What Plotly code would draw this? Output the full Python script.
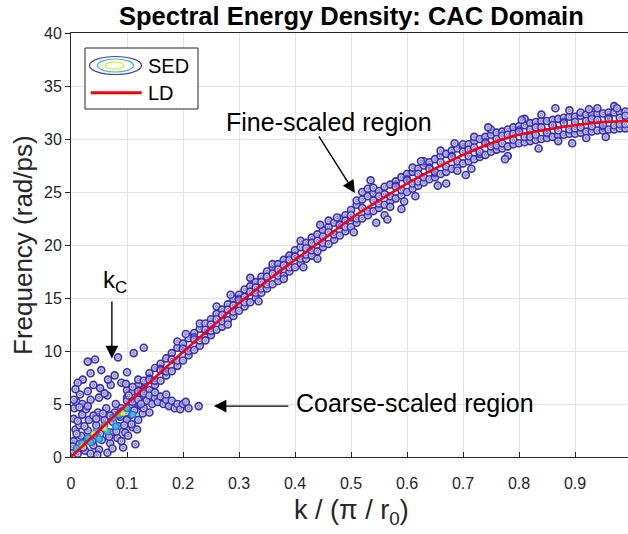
import plotly.graph_objects as go

# ---------------- data ----------------
# Lattice-dynamics (LD) dispersion curve
ld_k = [0, .05, .10, .15, .20, .25, .30, .35, .40, .45, .50, .55, .60, .65, .70, .75, .80, .85, .90, .95, 1.0]
ld_w = [0, 2.5, 5.0, 7.5, 9.9, 12.2, 14.5, 16.6, 18.6, 20.5, 22.5, 24.2, 25.8, 27.2, 28.5, 29.6, 30.4, 30.9, 31.3, 31.6, 31.7]

# SED contour blobs along the main branch: k, then blob frequencies at that k
band = [
    (0.10, 5.6, 4.4, 6.3, 5.3), (0.11, 6.2, 4.9, 5.3, 5.2), (0.12, 6.8, 5.4, 7.3, 6.3),
    (0.13, 7.2, 5.8, 6.4, 6.2), (0.14, 7.9, 6.3, 7.4, 7.3), (0.15, 8.4, 6.8, 7.2, 7.2),
    (0.16, 8.8, 7.2, 8.3, 8.2), (0.17, 9.3, 7.7, 8.1, 8.1), (0.18, 9.8, 8.1, 9.2, 9.2),
    (0.19, 10.3, 8.6, 10.9, 9.1), (0.20, 10.7, 9.1, 10.2, 10.2), (0.21, 11.2, 9.6, 10.0, 10.0),
    (0.22, 11.7, 10.1, 11.3, 11.1), (0.23, 12.1, 10.5, 12.6, 11.0), (0.24, 12.6, 11.0, 11.9, 12.0),
    (0.25, 13.0, 11.5, 12.5, 11.9), (0.26, 13.5, 12.0, 14.2, 13.0), (0.27, 13.9, 12.3, 13.4, 12.8),
    (0.28, 14.4, 12.9, 12.5, 13.9), (0.29, 14.9, 13.3, 14.3, 13.7), (0.30, 15.3, 13.8, 14.9, 14.8),
    (0.31, 15.8, 14.2, 15.1, 14.6), (0.32, 16.1, 14.6, 16.9, 15.6), (0.33, 16.5, 15.0, 16.0, 15.5),
    (0.34, 17.0, 15.5, 15.9, 16.5), (0.35, 17.5, 15.9, 17.0, 16.3), (0.36, 17.9, 16.3, 18.2, 17.3),
    (0.37, 18.2, 16.6, 17.7, 17.1), (0.38, 18.6, 17.1, 16.8, 18.1), (0.39, 19.0, 17.5, 18.6, 17.9),
    (0.40, 19.5, 17.9, 18.9, 18.9), (0.41, 19.8, 18.3, 20.4, 18.7), (0.42, 20.2, 18.7, 19.1, 19.7),
    (0.43, 20.7, 19.0, 20.2, 19.5), (0.44, 21.0, 19.4, 18.7, 20.4), (0.45, 21.4, 19.8, 20.8, 20.2),
    (0.46, 21.7, 20.1, 22.3, 21.2), (0.47, 22.1, 20.5, 21.0, 21.0), (0.48, 22.5, 20.9, 21.9, 21.9),
    (0.49, 22.8, 21.3, 22.3, 21.7), (0.50, 23.3, 21.7, 22.6, 22.8), (0.51, 23.8, 22.1, 24.2, 22.5),
    (0.52, 24.3, 22.5, 25.0, 23.5), (0.53, 24.6, 22.8, 25.3, 23.2), (0.54, 24.9, 23.2, 25.4, 24.2),
    (0.55, 25.1, 23.5, 24.6, 23.9), (0.56, 25.5, 23.8, 22.8, 24.8), (0.57, 25.7, 24.1, 23.6, 24.6),
    (0.58, 26.0, 24.4, 25.6, 25.5), (0.59, 26.4, 24.7, 23.4, 25.2), (0.60, 26.7, 25.0, 26.2, 26.1),
    (0.61, 26.9, 25.3, 27.3, 25.8), (0.62, 27.2, 25.6, 26.0, 26.7), (0.63, 27.5, 25.9, 27.9, 26.4),
    (0.64, 27.8, 26.2, 27.3, 27.2), (0.65, 28.1, 26.4, 26.8, 26.9), (0.66, 28.4, 26.7, 28.9, 27.8),
    (0.67, 28.6, 26.9, 25.8, 27.4), (0.68, 28.9, 27.2, 28.4, 28.3), (0.69, 29.1, 27.4, 27.0, 27.9),
    (0.70, 29.3, 27.7, 29.5, 28.8), (0.71, 29.5, 27.9, 29.0, 28.4), (0.72, 29.8, 28.1, 30.2, 29.2),
    (0.73, 30.0, 28.3, 28.6, 28.8), (0.74, 30.2, 28.5, 29.7, 29.6), (0.75, 30.4, 28.8, 30.9, 29.3),
    (0.76, 30.6, 29.0, 29.4, 30.0), (0.77, 30.7, 29.1, 30.3, 29.6), (0.78, 30.9, 29.3, 28.4, 30.4),
    (0.79, 31.1, 29.5, 30.5, 29.9), (0.80, 31.2, 29.6, 30.8, 30.7), (0.81, 31.3, 29.7, 31.9, 30.2),
    (0.82, 31.5, 29.8, 30.2, 30.9), (0.83, 31.6, 29.9, 31.1, 30.4), (0.84, 31.7, 30.0, 32.3, 31.1),
    (0.85, 31.7, 30.1, 30.6, 30.6), (0.86, 31.8, 30.2, 31.3, 31.3), (0.87, 31.9, 30.3, 29.8, 30.8),
    (0.88, 32.0, 30.4, 31.6, 31.5), (0.89, 32.1, 30.5, 32.7, 30.9), (0.90, 32.1, 30.5, 31.0, 31.6),
    (0.91, 32.2, 30.6, 32.5, 31.1), (0.92, 32.3, 30.7, 30.1, 31.7), (0.93, 32.3, 30.7, 31.9, 31.2),
    (0.94, 32.4, 30.8, 32.9, 31.8), (0.95, 32.4, 30.8, 31.2, 31.3), (0.96, 32.5, 30.9, 32.0, 31.9),
    (0.97, 32.5, 30.9, 33.1, 31.3), (0.98, 32.5, 31.0, 31.4, 32.0), (0.99, 32.6, 31.0, 32.2, 31.4),
]

# extra isolated blobs just outside the main band
stray_k = [0.205, 0.285, 0.335, 0.415, 0.445, 0.475, 0.505, 0.535, 0.565, 0.595, 0.625, 0.655, 0.685,
           0.715, 0.745, 0.775, 0.805, 0.835, 0.865, 0.895, 0.925, 0.955, 0.975, 0.545, 0.615, 0.705]
stray_w = [11.6, 15.3, 14.7, 17.9, 21.9, 22.6, 21.2, 26.1, 22.4, 24.1, 27.9, 25.6, 29.6,
           27.2, 31.1, 28.1, 31.8, 29.1, 32.9, 29.6, 32.8, 30.2, 32.9, 22.1, 24.6, 26.6]

# low-k cloud near the origin
low_k = [0.005, 0.005, 0.008, 0.005, 0.006, 0.012, 0.015, 0.018, 0.015, 0.02, 0.025, 0.028, 0.03, 0.032,
         0.035, 0.04, 0.042, 0.045, 0.048, 0.05, 0.055, 0.058, 0.06, 0.063, 0.065, 0.07, 0.072, 0.075,
         0.078, 0.08, 0.083, 0.085, 0.088, 0.09, 0.093, 0.097, 0.10, 0.103, 0.107, 0.11, 0.115, 0.12,
         0.125, 0.01, 0.02, 0.035, 0.05, 0.065,
         0.003, 0.01, 0.012, 0.022, 0.024, 0.027, 0.038, 0.04, 0.047, 0.052, 0.057, 0.068, 0.07, 0.074,
         0.081, 0.086, 0.09, 0.095, 0.098, 0.102, 0.108, 0.113, 0.118, 0.128, 0.005, 0.015, 0.03, 0.045]
low_w = [0.5, 1.5, 2.6, 3.6, 4.6, 0.3, 1.2, 2.0, 3.0, 4.0, 0.6, 1.6, 2.5, 3.5,
         0.3, 1.1, 2.0, 3.0, 4.2, 0.7, 1.6, 2.6, 3.5, 4.6, 0.4, 1.3, 2.3, 3.3,
         4.2, 5.0, 1.8, 2.9, 3.8, 4.6, 0.9, 2.3, 3.5, 5.8, 4.0, 2.8, 1.2, 3.5,
         4.8, 5.2, 5.0, 5.4, 5.6, 5.8,
         1.0, 2.2, 3.4, 0.9, 2.9, 4.5, 1.5, 3.9, 0.2, 2.2, 4.1, 1.9, 3.9, 0.8,
         2.4, 4.0, 1.5, 3.0, 4.2, 2.0, 3.1, 4.4, 2.6, 4.1, 5.4, 4.7, 4.8, 3.6]

# coarse-scaled branch
coarse_k = [0.11, 0.12, 0.13, 0.135, 0.14, 0.145, 0.15, 0.155, 0.16, 0.165, 0.17, 0.175, 0.18, 0.185,
            0.19, 0.195, 0.20, 0.21, 0.228, 0.13, 0.14, 0.125, 0.15, 0.17, 0.205]
coarse_w = [6.6, 6.2, 6.0, 5.3, 5.8, 5.0, 5.6, 5.2, 5.7, 5.0, 5.4, 4.8, 5.3, 4.6,
            5.0, 4.5, 5.0, 4.6, 4.8, 4.6, 4.2, 5.0, 6.1, 5.9, 5.2]

# scattered spots above the low-k cloud
spot_k = [0.03, 0.043, 0.084, 0.021, 0.054, 0.052, 0.071, 0.016, 0.078, 0.066, 0.112, 0.13,
          0.04, 0.09, 0.10, 0.012, 0.03, 0.06, 0.008, 0.035, 0.098]
spot_w = [9.0, 9.2, 9.4, 7.3, 8.2, 6.5, 6.8, 5.9, 7.7, 7.3, 9.8, 10.3,
          6.8, 7.0, 8.0, 7.0, 6.2, 6.0, 6.4, 7.9, 6.9]

# high-intensity contour levels near the origin
cyan_k = [0.01, 0.02, 0.03, 0.045, 0.06, 0.075, 0.09, 0.10, 0.05, 0.08, 0.065, 0.11, 0.035, 0.085]
cyan_w = [0.8, 1.3, 1.8, 2.4, 3.0, 3.7, 4.3, 4.6, 1.7, 2.9, 2.4, 4.0, 1.4, 4.0]
yellow_k = [0.04, 0.093, 0.02, 0.06]
yellow_w = [2.2, 4.1, 1.0, 2.7]

x_ticks = [0, 0.1, 0.2, 0.3, 0.4, 0.5, 0.6, 0.7, 0.8, 0.9]
x_ticklabels = ["0", "0.1", "0.2", "0.3", "0.4", "0.5", "0.6", "0.7", "0.8", "0.9"]
y_ticks = [0, 5, 10, 15, 20, 25, 30, 35, 40]

# ---------------- build ----------------
sed_k, sed_w = [], []
for row in band:
    for w in row[1:]:
        sed_k.append(row[0])
        sed_w.append(w)
sed_k += stray_k + low_k + coarse_k + spot_k
sed_w += stray_w + low_w + coarse_w + spot_w

DARK = "#3a2cb2"
fig = go.Figure()
fig.add_trace(go.Scatter(x=sed_k, y=sed_w, mode="markers", showlegend=False, hoverinfo="skip",
                         marker=dict(symbol="circle", size=7, color="#d4d8fb", line=dict(width=1.6, color=DARK))))
fig.add_trace(go.Scatter(x=sed_k, y=sed_w, mode="markers", showlegend=False, hoverinfo="skip",
                         marker=dict(symbol="circle-open", size=2.5, color="#5a60d8", line=dict(width=0.8))))
fig.add_trace(go.Scatter(x=cyan_k, y=cyan_w, mode="markers", showlegend=False, hoverinfo="skip",
                         marker=dict(symbol="circle", size=6.5, color="#30c4cc", line=dict(width=1.2, color="#2c70e4"))))
fig.add_trace(go.Scatter(x=yellow_k, y=yellow_w, mode="markers", showlegend=False, hoverinfo="skip",
                         marker=dict(symbol="circle", size=5, color="#f4e62c", line=dict(width=1, color="#8fd050"))))
fig.add_trace(go.Scatter(x=ld_k, y=ld_w, mode="lines", line=dict(color="#ff0000", width=2.6, shape="spline"),
                         showlegend=False, hoverinfo="skip"))

FONT = "Liberation Sans, Arial, sans-serif"
AX = "#262626"

# plot area geometry (px) used only for placing layout decorations
L, T, W, H = 71, 33, 557, 424
def px(x):
    return (x - L) / W
def py(y):
    return (T + H - y) / H

shapes = [
    dict(type="rect", xref="paper", yref="paper", x0=px(85), x1=px(198), y0=py(109), y1=py(48),
         line=dict(color=AX, width=1), fillcolor="white", layer="above"),
    dict(type="circle", xref="paper", yref="paper", x0=px(89.5), x1=px(141.5), y0=py(74.5), y1=py(56.5),
         line=dict(color="#4a3cb8", width=1.2), layer="above"),
    dict(type="circle", xref="paper", yref="paper", x0=px(97.5), x1=px(133.5), y0=py(72), y1=py(59),
         line=dict(color="#2cc4c4", width=1.2), layer="above"),
    dict(type="circle", xref="paper", yref="paper", x0=px(105), x1=px(124), y0=py(69), y1=py(62),
         line=dict(color="#f0e010", width=1.2), layer="above"),
    dict(type="line", xref="paper", yref="paper", x0=px(90.7), x1=px(141.7), y0=py(92.7), y1=py(92.7),
         line=dict(color="#ff0000", width=3), layer="above"),
]

annotations = [
    dict(text="<b>Spectral Energy Density: CAC Domain</b>", xref="paper", yref="paper", x=px(351), y=py(16),
         showarrow=False, font=dict(size=25.5, color="black", family=FONT), xanchor="center", yanchor="middle"),
    dict(text="Frequency (rad/ps)", xref="paper", yref="paper", x=px(23), y=py(245), textangle=-90,
         showarrow=False, font=dict(size=26, color=AX, family=FONT), xanchor="center", yanchor="middle"),
    dict(text="k / (π / r<sub>0</sub>)", xref="paper", yref="paper", x=px(351), y=py(512),
         showarrow=False, font=dict(size=27, color=AX, family=FONT), xanchor="center", yanchor="middle"),
    dict(text="SED", xref="paper", yref="paper", x=px(146), y=py(66), showarrow=False,
         font=dict(size=20, color="black", family=FONT), xanchor="left", yanchor="middle"),
    dict(text="LD", xref="paper", yref="paper", x=px(146), y=py(93), showarrow=False,
         font=dict(size=20, color="black", family=FONT), xanchor="left", yanchor="middle"),
    # text labels
    dict(text="Fine-scaled region", x=0.46, y=31.6, xref="x", yref="y", showarrow=False,
         font=dict(size=25, color="black", family=FONT), xanchor="center", yanchor="middle"),
    dict(text="Coarse-scaled region", x=0.615, y=5.1, xref="x", yref="y", showarrow=False,
         font=dict(size=25, color="black", family=FONT), xanchor="center", yanchor="middle"),
    dict(text="k<sub>C</sub>", x=0.078, y=16.6, xref="x", yref="y", showarrow=False,
         font=dict(size=24, color="black", family=FONT), xanchor="center", yanchor="middle"),
    # arrows
    dict(text="", x=0.507, y=24.9, ax=0.441, ay=30.4, xref="x", yref="y", axref="x", ayref="y",
         showarrow=True, arrowhead=2, arrowsize=1.8, arrowwidth=1.4, arrowcolor="black"),
    dict(text="", x=0.073, y=9.3, ax=0.073, ay=14.8, xref="x", yref="y", axref="x", ayref="y",
         showarrow=True, arrowhead=2, arrowsize=1.8, arrowwidth=1.4, arrowcolor="black"),
    dict(text="", x=0.255, y=4.8, ax=0.391, ay=4.8, xref="x", yref="y", axref="x", ayref="y",
         showarrow=True, arrowhead=2, arrowsize=1.8, arrowwidth=1.4, arrowcolor="black"),
]

fig.update_layout(
    width=628, height=534,
    margin=dict(l=L, r=628 - L - W, t=T, b=534 - T - H, pad=0),
    paper_bgcolor="white", plot_bgcolor="white",
    font=dict(family=FONT, color=AX),
    showlegend=False,
    shapes=shapes, annotations=annotations,
    xaxis=dict(range=[0, W / 560], tickvals=x_ticks, ticktext=x_ticklabels, showgrid=True,
               gridcolor="#e3e3e3", gridwidth=1, zeroline=False, showline=True, linecolor=AX, linewidth=1,
               mirror=True, ticks="inside", ticklen=5, tickcolor=AX, tickfont=dict(size=16, color=AX),
               ticklabelstandoff=12),
    yaxis=dict(range=[0, 40], tickvals=y_ticks, showgrid=True, gridcolor="#e3e3e3", gridwidth=1,
               zeroline=False, showline=True, linecolor=AX, linewidth=1, ticks="outside", ticklen=5,
               tickcolor=AX, tickfont=dict(size=16, color=AX)),
)

fig.write_html("out.html")
